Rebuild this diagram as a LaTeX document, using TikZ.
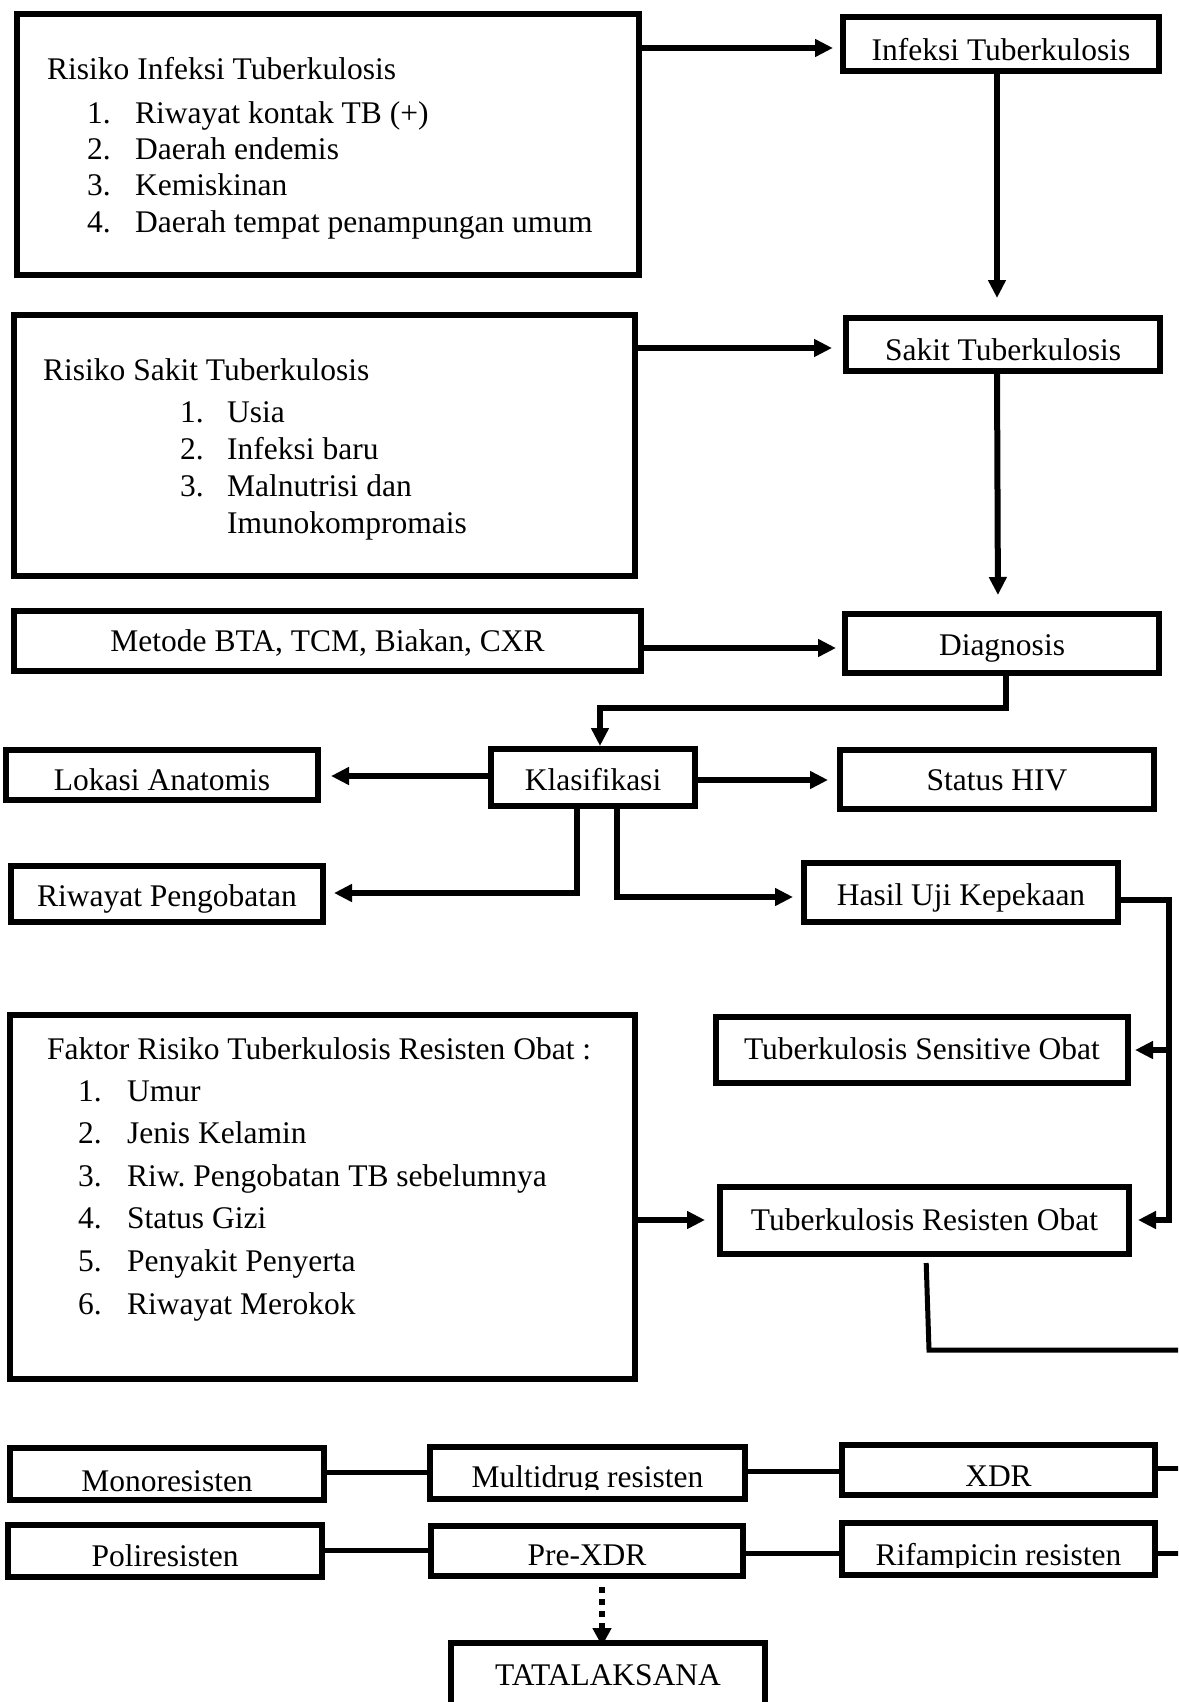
\documentclass[tikz,border=0pt]{standalone}
\usepackage{fontspec}
\setmainfont{Liberation Serif}
\usetikzlibrary{arrows.meta}
\tikzset{
  box/.style={draw, line width=6pt, inner sep=0pt, fill=white},
  txt/.style={anchor=base, inner sep=0pt, font=\fontsize{31.5pt}{37pt}\selectfont},
  txtl/.style={anchor=base west, inner sep=0pt, font=\fontsize{31.5pt}{37pt}\selectfont},
  arr/.style={line width=6pt, -{Triangle[length=18pt,width=17pt]}},
  thinl/.style={line width=5pt},
}
\newcommand\tbox[7]{%
  \node[box, minimum width={(#4-#2-6)*1pt}, minimum height={(#5-#3-6)*1pt}] (#1) at ({(#2+#4)/2},{(#3+#5)/2}) {};
  \node[txt] (#1-t) at ({(#2+#4)/2},#6) {#7};}
\newcommand\cbox[7]{%
  \node[box, minimum width={(#4-#2-6)*1pt}, minimum height={(#5-#3-6)*1pt}] (#1) at ({(#2+#4)/2},{(#3+#5)/2}) {};
  \begin{scope}
    \clip ({#2},{#3}) rectangle ({#4},{#6+2});
    \node[txt] (#1-t) at ({(#2+#4)/2},#6) {#7};
  \end{scope}}
\newcommand\ebox[5]{%
  \node[box, minimum width={(#4-#2-6)*1pt}, minimum height={(#5-#3-6)*1pt}] (#1) at ({(#2+#4)/2},{(#3+#5)/2}) {};}
\begin{document}
\begin{tikzpicture}[x=1pt,y=-1pt]
\useasboundingbox (0,0) rectangle (1178,1702);
\fill[white] (0,0) rectangle (1178,1702);
\clip (0,0) rectangle (1178,1702);

% boxes
\ebox{r1}{14}{11}{642}{278}
\node[txtl] (r1-h) at (47,79) {Risiko Infeksi Tuberkulosis};
\node[txtl] (r1-n1) at (87,123) {1.};
\node[txtl] (r1-i1) at (135,123) {Riwayat kontak TB (+)};
\node[txtl] (r1-n2) at (87,159) {2.};
\node[txtl] (r1-i2) at (135,159) {Daerah endemis};
\node[txtl] (r1-n3) at (87,195) {3.};
\node[txtl] (r1-i3) at (135,195) {Kemiskinan};
\node[txtl] (r1-n4) at (87,232) {4.};
\node[txtl] (r1-i4) at (135,232) {Daerah tempat penampungan umum};

\tbox{inf}{840}{14}{1162}{74}{60}{Infeksi Tuberkulosis}

\ebox{r2}{11}{312}{638}{579}
\node[txtl] (r2-h) at (43,380) {Risiko Sakit Tuberkulosis};
\node[txtl] (r2-n1) at (180,422) {1.};
\node[txtl] (r2-i1) at (227,422) {Usia};
\node[txtl] (r2-n2) at (180,459) {2.};
\node[txtl] (r2-i2) at (227,459) {Infeksi baru};
\node[txtl] (r2-n3) at (180,496) {3.};
\node[txtl] (r2-i3) at (227,496) {Malnutrisi dan};
\node[txtl] (r2-i4) at (227,533) {Imunokompromais};

\tbox{sak}{843}{315}{1163}{374}{360}{Sakit Tuberkulosis}
\tbox{met}{11}{608}{644}{674}{651}{Metode BTA, TCM, Biakan, CXR}
\tbox{diag}{842}{611}{1162}{676}{655}{Diagnosis}
\tbox{klas}{488}{746}{698}{809}{790}{Klasifikasi}
\tbox{lok}{3}{747}{321}{803}{790}{Lokasi Anatomis}
\tbox{hiv}{837}{747}{1157}{812}{790}{Status HIV}
\tbox{riw}{8}{863}{326}{925}{906}{Riwayat Pengobatan}
\tbox{has}{801}{860}{1121}{925}{905}{Hasil Uji Kepekaan}
\tbox{sens}{713}{1014}{1131}{1086}{1059}{Tuberkulosis Sensitive Obat}
\tbox{res}{717}{1184}{1132}{1257}{1230}{Tuberkulosis Resisten Obat}

\ebox{fak}{7}{1012}{638}{1382}
\node[txtl] (fak-h) at (47,1059) {Faktor Risiko Tuberkulosis Resisten Obat :};
\node[txtl] (fak-n1) at (78,1101) {1.};
\node[txtl] (fak-i1) at (127,1101) {Umur};
\node[txtl] (fak-n2) at (78,1143) {2.};
\node[txtl] (fak-i2) at (127,1143) {Jenis Kelamin};
\node[txtl] (fak-n3) at (78,1186) {3.};
\node[txtl] (fak-i3) at (127,1186) {Riw.\ Pengobatan TB sebelumnya};
\node[txtl] (fak-n4) at (78,1228) {4.};
\node[txtl] (fak-i4) at (127,1228) {Status Gizi};
\node[txtl] (fak-n5) at (78,1271) {5.};
\node[txtl] (fak-i5) at (127,1271) {Penyakit Penyerta};
\node[txtl] (fak-n6) at (78,1314) {6.};
\node[txtl] (fak-i6) at (127,1314) {Riwayat Merokok};

\tbox{mono}{7}{1445}{327}{1503}{1491}{Monoresisten}
\tbox{poli}{5}{1522}{325}{1580}{1566}{Poliresisten}
\cbox{mdr}{427}{1444}{748}{1502}{1487}{Multidrug resisten}
\tbox{pre}{428}{1523}{746}{1579}{1565}{Pre-XDR}
\tbox{xdr}{839}{1442}{1158}{1498}{1486}{XDR}
\cbox{rif}{839}{1520}{1158}{1578}{1565}{Rifampicin resisten}
\tbox{tata}{448}{1640}{768}{1730}{1685}{TATALAKSANA}

% connectors
\draw[arr, shorten >=7pt] (r1.east |- 0,48) -- (inf.west |- 0,48);
\draw[arr, shorten >=17pt] (inf.south -| 997,0) -- (sak.north -| 997,0);
\draw[arr, shorten >=11pt] (r2.east |- 0,348) -- (sak.west |- 0,348);
\draw[arr, shorten >=16pt] (sak.south -| 997,0) -- (diag.north -| 998,0);
\draw[arr, shorten >=6pt] (met.east |- 0,648) -- (diag.west |- 0,648);
\draw[arr] (diag.south -| 1006,0) |- (600,708) -- (klas.north -| 600,0);
\draw[arr, shorten >=10pt] (klas.west |- 0,776) -- (lok.east |- 0,776);
\draw[arr, shorten >=9pt] (klas.east |- 0,780) -- (hiv.west |- 0,780);
\draw[arr, shorten >=8pt] (klas.south -| 577,0) |- (riw.east |- 0,893);
\draw[arr, shorten >=8pt] (klas.south -| 617,0) |- (has.west |- 0,897);
\coordinate (j1) at (1169,1050);
\coordinate (j2) at (1169,1220);
\draw[arr, shorten >=6pt] (has.east |- 0,900) -| (j2) -- (res.east |- 0,1220);
\draw[arr, shorten >=4pt] (j1) -- (sens.east |- 0,1050);
\draw[arr, shorten >=12pt] (fak.east |- 0,1220) -- (res.west |- 0,1220);
\coordinate (e1) at (1195,1350);
\draw[thinl, shorten <=6pt] (res.south -| 926,0) -- (929,1350) -- (e1);

\draw[thinl] (mono.east |- 0,1472) -- (mdr.west |- 0,1472);
\draw[thinl] (poli.east |- 0,1550) -- (pre.west |- 0,1550);
\draw[thinl] (mdr.east |- 0,1471) -- (xdr.west |- 0,1471);
\draw[thinl] (pre.east |- 0,1553) -- (rif.west |- 0,1553);
\coordinate (e2) at (1195,1468);
\coordinate (e3) at (1195,1553);
\draw[thinl] (xdr.east |- 0,1468) -- (e2);
\draw[thinl] (rif.east |- 0,1553) -- (e3);
\draw[line width=6pt, dash pattern=on 6pt off 6pt, -{Triangle[length=18pt,width=18pt]}, shorten <=8pt, shorten >=-6pt] (pre.south -| 602,0) -- (tata.north -| 602,0);
\end{tikzpicture}
\end{document}
